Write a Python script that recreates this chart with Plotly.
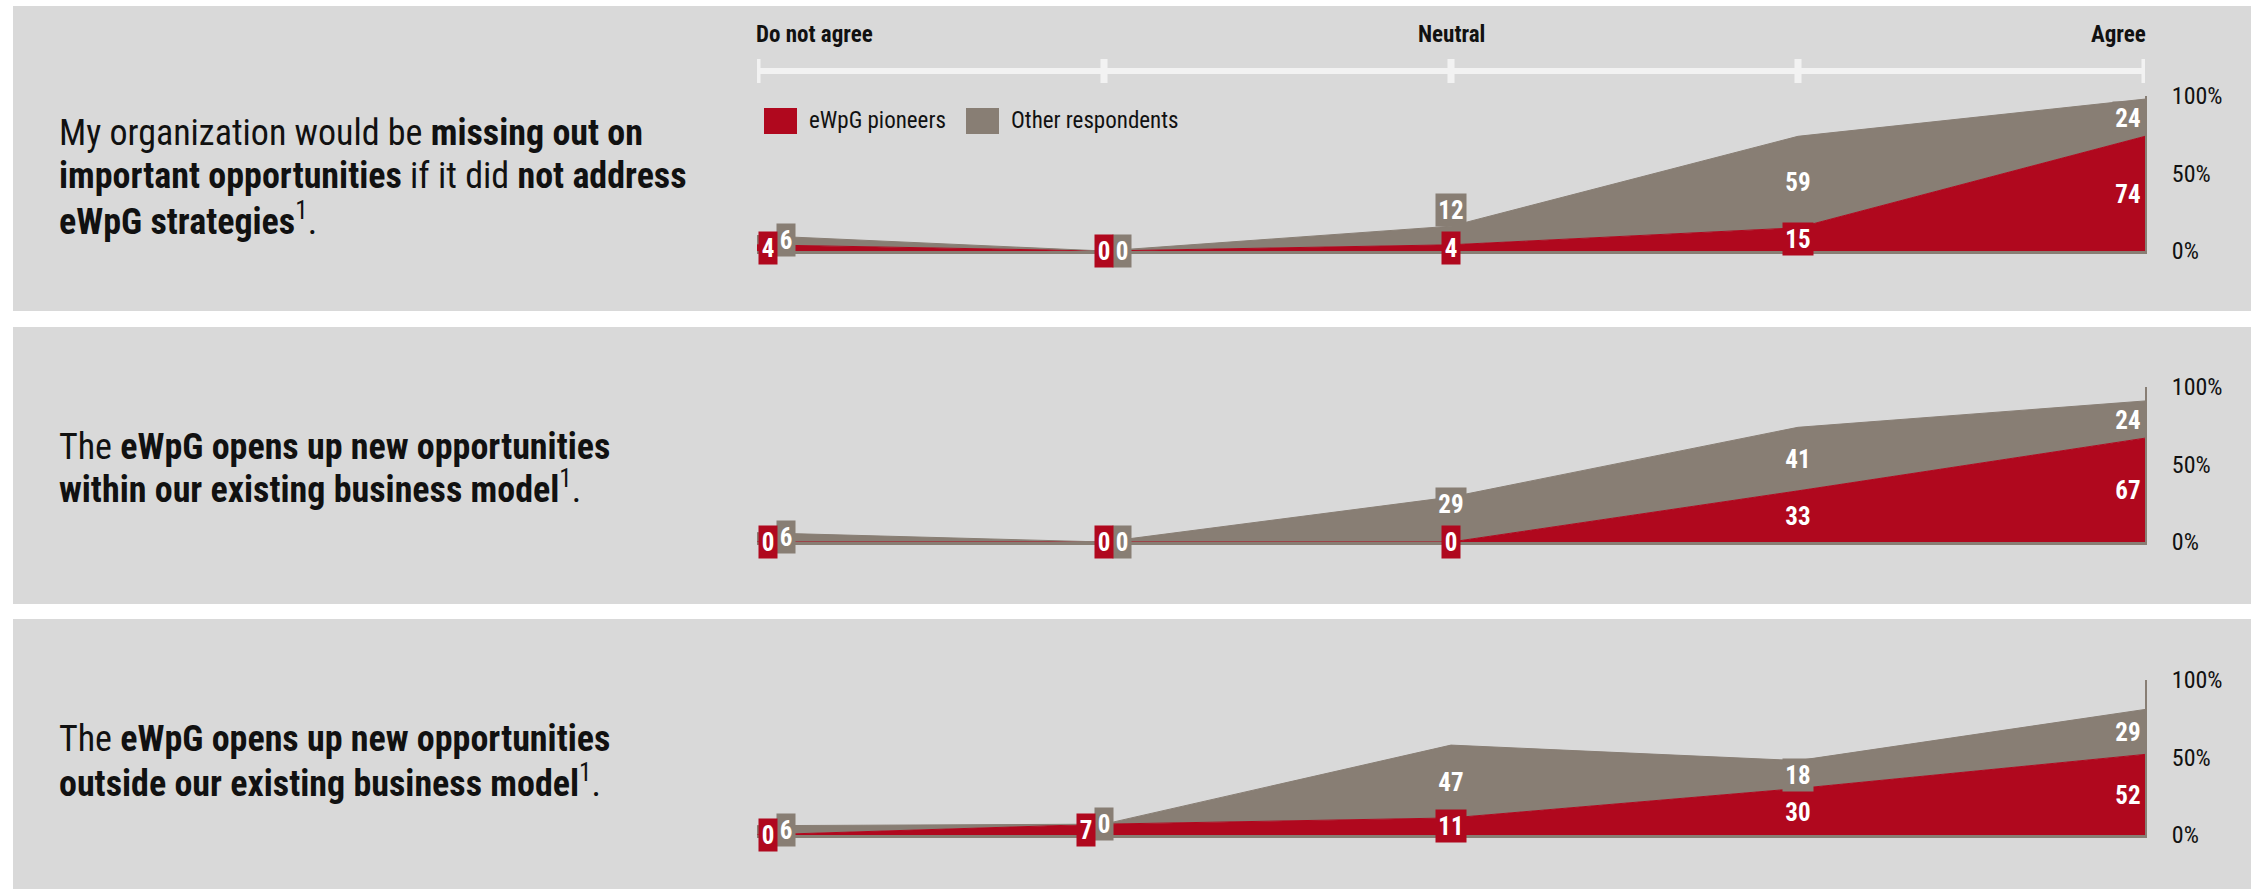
import plotly.graph_objects as go

# ---------------- data ----------------
categories = [0, 1, 2, 3, 4]
scale_labels = ["Do not agree", "Neutral", "Agree"]
scale_label_positions = [0, 2, 4]
series_names = ["eWpG pioneers", "Other respondents"]

pioneers_1 = [4, 0, 4, 15, 74]
others_1 = [6, 0, 12, 59, 24]
pioneers_2 = [0, 0, 0, 33, 67]
others_2 = [6, 0, 29, 41, 24]
pioneers_3 = [0, 7, 11, 30, 52]
others_3 = [6, 0, 47, 18, 29]

statement_1 = ["My organization would be <b>missing out on</b>",
               "<b>important opportunities</b> if it did <b>not address</b>",
               "<b>eWpG strategies</b><sup>1</sup>."]
statement_2 = ["The <b>eWpG opens up new opportunities</b>",
               "<b>within our existing business model</b><sup>1</sup>."]
statement_3 = ["The <b>eWpG opens up new opportunities</b>",
               "<b>outside our existing business model</b><sup>1</sup>."]

y_tick_values = [0, 50, 100]
y_tick_labels = ["0%", "50%", "100%"]

# ---------------- style ----------------
W, H = 2260, 891
RED = "#B0081E"
GREY = "#887E74"
PANEL_BG = "#D9D9D9"
BAR = "#F2F2F2"
TEXT = "#111111"
FONT = "Liberation Sans Narrow, Arial Narrow, Roboto Condensed, DejaVu Sans Condensed, sans-serif"

X_LEFT, X_RIGHT = 757, 2145
PANELS = [
    dict(top=6, bottom=311, zero=251, full=96, text_y=[133, 176, 219]),
    dict(top=327, bottom=604, zero=542, full=387, text_y=[447, 488]),
    dict(top=619, bottom=889, zero=835, full=680, text_y=[739, 781]),
]
BOX_H = 32
LABEL_FS = 25


def px(x):
    return x / W


def py(y):
    return 1 - y / H


def box_w(txt):
    return 12 * len(txt) + 6


data = [(pioneers_1, others_1, statement_1),
        (pioneers_2, others_2, statement_2),
        (pioneers_3, others_3, statement_3)]

fig = go.Figure()
layout = dict(
    width=W, height=H, autosize=False,
    margin=dict(l=0, r=0, t=0, b=0, pad=0, autoexpand=False),
    paper_bgcolor="white", plot_bgcolor="rgba(0,0,0,0)",
    showlegend=False,
    font=dict(family=FONT, color=TEXT),
)
shapes = []
annotations = []
step = (X_RIGHT - X_LEFT) / (len(categories) - 1)

for k, (pion, oth, stmt) in enumerate(data):
    P = PANELS[k]
    sfx = "" if k == 0 else str(k + 1)
    xa, ya = "x" + sfx, "y" + sfx
    # panel background
    shapes.append(dict(type="rect", xref="paper", yref="paper", layer="below",
                       x0=px(13), x1=px(2251), y0=py(P["bottom"]), y1=py(P["top"]),
                       fillcolor=PANEL_BG, line=dict(width=0)))
    # axes
    layout["xaxis" + sfx] = dict(domain=[px(X_LEFT), px(X_RIGHT)], range=[0, 4], anchor=ya,
                                 showgrid=False, zeroline=False, showticklabels=False,
                                 ticks="", showline=True, linecolor=GREY, linewidth=3,
                                 automargin=False, fixedrange=True)
    layout["yaxis" + sfx] = dict(domain=[py(P["zero"]), py(P["full"])], range=[0, 100],
                                 anchor=xa, side="right", showgrid=False, zeroline=False,
                                 tickvals=y_tick_values, ticktext=y_tick_labels, ticks="",
                                 ticklabelstandoff=20, showline=True, linecolor=GREY,
                                 linewidth=2, tickfont=dict(size=24, color=TEXT, family=FONT),
                                 automargin=False, fixedrange=True)
    # stacked areas
    fig.add_trace(go.Scatter(x=categories, y=pion, xaxis=xa, yaxis=ya, stackgroup="s" + sfx,
                             mode="lines", line=dict(color=RED, width=1), fillcolor=RED,
                             name=series_names[0], hoverinfo="skip"))
    fig.add_trace(go.Scatter(x=categories, y=oth, xaxis=xa, yaxis=ya, stackgroup="s" + sfx,
                             mode="lines", line=dict(color=GREY, width=1), fillcolor=GREY,
                             name=series_names[1], hoverinfo="skip"))
    # statement text
    for line, ty in zip(stmt, P["text_y"]):
        annotations.append(dict(xref="paper", yref="paper", x=px(57), y=py(ty),
                                xanchor="left", yanchor="middle", showarrow=False,
                                text=line, font=dict(size=36, color=TEXT, family=FONT)))
    # data labels (kept inside the plot area, moved apart when they collide)
    ppp = (P["zero"] - P["full"]) / 100.0
    for i in categories:
        p, o = pion[i], oth[i]
        ry, gy = p / 2, p + o / 2
        rt, gt = str(p), str(o)
        rw, gw = box_w(rt), box_w(gt)
        r_xs = g_xs = 0.0
        g_ys = 0.0
        cat_px = X_LEFT + i * step
        pair = False
        if (gy - ry) * ppp < BOX_H:
            if o <= 10:
                pair = True
                if p == 0:
                    g_xs = (rw + gw) / 2
                else:
                    r_xs = -(rw + gw) / 2
            else:
                g_ys = BOX_H + 6 - (gy - ry) * ppp

        def clamp(xs_list, w_list):
            left = min(cat_px + xs - w / 2 for xs, w in zip(xs_list, w_list))
            right = max(cat_px + xs + w / 2 for xs, w in zip(xs_list, w_list))
            sh = 0.0
            if left < X_LEFT + 2:
                sh = X_LEFT + 2 - left
            elif right > X_RIGHT - 2:
                sh = X_RIGHT - 2 - right
            return sh

        if pair:
            sh = clamp([r_xs, g_xs], [rw, gw])
            r_xs += sh
            g_xs += sh
        else:
            r_xs += clamp([r_xs], [rw])
            g_xs += clamp([g_xs], [gw])
        for val_y, txt, w_, col, xs, ys in ((gy, gt, gw, GREY, g_xs, g_ys),
                                            (ry, rt, rw, RED, r_xs, 0)):
            annotations.append(dict(xref=xa, yref=ya, x=i, y=val_y, xshift=xs, yshift=ys,
                                    xanchor="center", yanchor="middle", showarrow=False,
                                    text="<b>" + txt + "</b>", width=w_, height=BOX_H,
                                    borderpad=0, bgcolor=col, align="center", valign="middle",
                                    font=dict(size=LABEL_FS, color="white", family=FONT)))

# header scale bar
shapes.append(dict(type="line", xref="x", yref="paper", x0=0, x1=4, y0=py(71), y1=py(71),
                   line=dict(color=BAR, width=6)))
for c in categories:
    shapes.append(dict(type="line", xref="x", yref="paper", x0=c, x1=c, y0=py(59), y1=py(83),
                       line=dict(color=BAR, width=7)))
anchors = ["left", "center", "right"]
shifts = [-3, 0, 3]
for lab, pos, anc, sh in zip(scale_labels, scale_label_positions, anchors, shifts):
    annotations.append(dict(xref="x", yref="paper", x=pos, y=py(34), xanchor=anc, xshift=sh,
                            yanchor="middle", showarrow=False, text="<b>" + lab + "</b>",
                            font=dict(size=23, color=TEXT, family=FONT)))

# legend (drawn manually)
legend_items = [(764, RED, series_names[0]), (966, GREY, series_names[1])]
for lx, col, name in legend_items:
    shapes.append(dict(type="rect", xref="paper", yref="paper", x0=px(lx), x1=px(lx + 33),
                       y0=py(134), y1=py(108), fillcolor=col, line=dict(width=0)))
    annotations.append(dict(xref="paper", yref="paper", x=px(lx + 43), y=py(121),
                            xanchor="left", yanchor="middle", showarrow=False, text=name,
                            font=dict(size=23, color=TEXT, family=FONT)))

layout["shapes"] = shapes
layout["annotations"] = annotations
fig.update_layout(**layout)
fig.write_html("out.html", config={"displayModeBar": False},
               post_script="document.body.style.margin='0';document.body.style.overflow='hidden';")
